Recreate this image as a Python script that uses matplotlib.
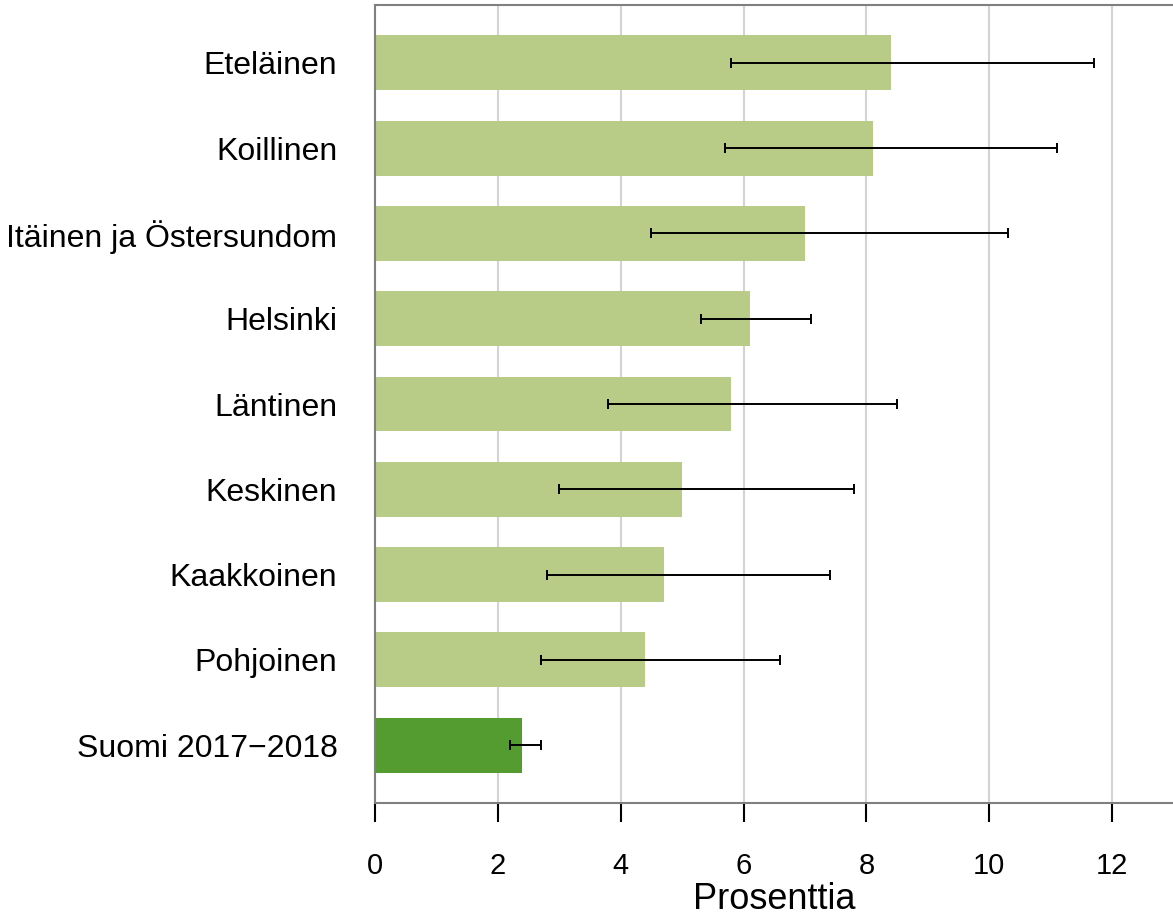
import numpy as np
import matplotlib
matplotlib.use("Agg")
import matplotlib.pyplot as plt

plt.rcParams['font.family'] = ['Liberation Sans', 'DejaVu Sans']

areas = ['Eteläinen', 'Koillinen', 'Itäinen ja Östersundom', 'Helsinki', 'Läntinen',
         'Keskinen', 'Kaakkoinen', 'Pohjoinen', 'Suomi 2017\u22122018']
values = [8.4, 8.1, 7.0, 6.1, 5.8, 5.0, 4.7, 4.4, 2.4]
ci_low = [5.8, 5.7, 4.5, 5.3, 3.8, 3.0, 2.8, 2.7, 2.2]
ci_high = [11.7, 11.1, 10.3, 7.1, 8.5, 7.8, 7.4, 6.6, 2.7]

light_green = '#b8cb87'
dark_green = '#559c30'
colors = [light_green] * (len(areas) - 1) + [dark_green]

fig = plt.figure(figsize=(11.73, 9.16), dpi=100)
# axes box: left spine at x=375px, plot runs off the right edge
ax = fig.add_axes([375 / 1173, 1 - 803 / 916, 798 / 1173, 798 / 916])

y = np.arange(len(areas))[::-1]
vals = np.array(values)
xerr = np.array([vals - np.array(ci_low), np.array(ci_high) - vals])

ax.barh(y, vals, height=0.645, color=colors, zorder=2)
ax.errorbar(vals, y, xerr=xerr, fmt='none', ecolor='black', elinewidth=1.4,
            capsize=3.6, capthick=1.4, zorder=3)

ax.set_xlim(0, 12.99)
ax.set_ylim(-0.68, len(areas) - 1 + 0.68)
ax.set_xticks(range(0, 13, 2))
ax.set_yticks(y)
ax.set_yticklabels(areas)
ax.grid(axis='x', color='#d3d3d3', linewidth=1.5, zorder=1)
ax.set_axisbelow(True)

for side in ['top', 'left', 'bottom']:
    ax.spines[side].set_color('#808080')
    ax.spines[side].set_linewidth(1.5)
ax.spines['right'].set_visible(False)

ax.tick_params(axis='y', length=0, pad=27, labelsize=23)
ax.tick_params(axis='x', length=14, width=1.5, color='black', pad=21, labelsize=21)
ax.set_xlabel('Prosenttia', fontsize=26, labelpad=2)

fig.savefig('out.png', dpi=100)
